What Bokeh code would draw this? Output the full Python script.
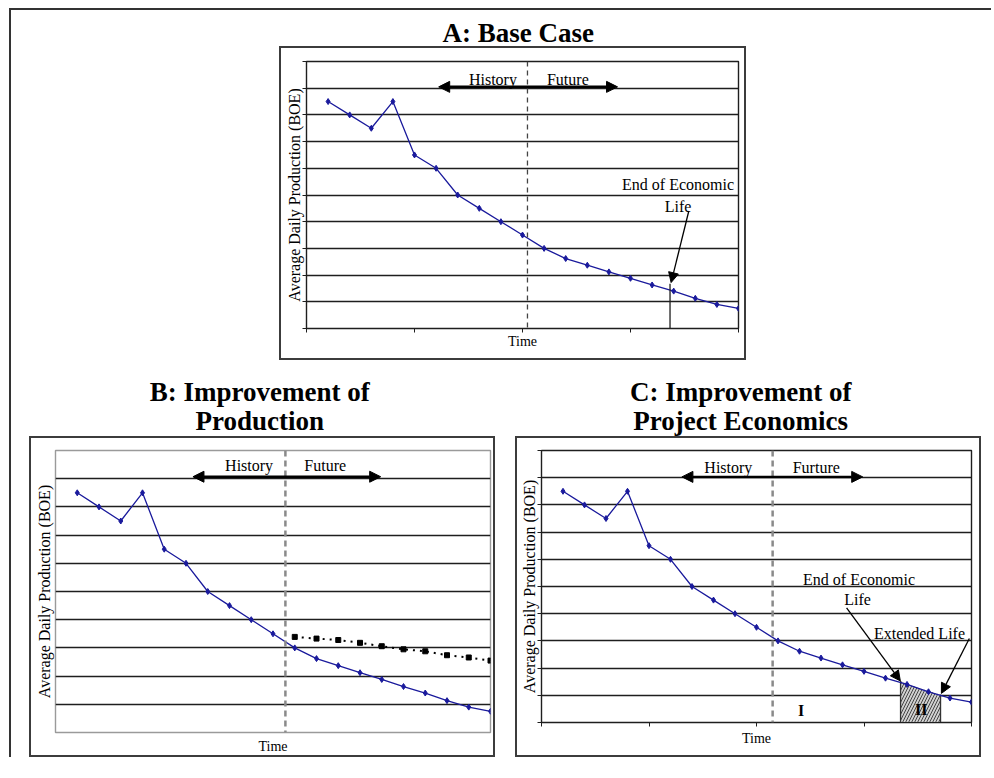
from bokeh.plotting import figure
from bokeh.models import (Range1d, FixedTicker, Label, Arrow, NormalHead, Spacer, Span,
                          CustomJSTickFormatter)
from bokeh.layouts import row, column
from bokeh.embed import file_html
from bokeh.resources import INLINE

# ---------------- data ----------------
time = list(range(1, 21))
production = [8.5, 8.0, 7.5, 8.5, 6.5, 6.0, 5.0, 4.5, 4.0, 3.5,
              3.0, 2.62, 2.37, 2.12, 1.88, 1.63, 1.4, 1.13, 0.9, 0.75]
improved_time = list(range(11, 21))
improved_production = [3.39, 3.33, 3.28, 3.18, 3.06, 2.95, 2.88, 2.74, 2.66, 2.55]
extended_time = [16.7, 17, 18, 18.56]
extended_production = [1.53, 1.41, 1.16, 1.02]
x_ticks = [0, 5, 10, 15, 20]
y_ticks = list(range(0, 11))
inner_y_ticks = list(range(1, 10))
title_a = ["A: Base Case"]
title_b = ["B: Improvement of", "Production"]
title_c = ["C: Improvement of", "Project Economics"]
y_label = "Average Daily Production (BOE)"
x_label = "Time"

BLUE = "#1a1a9c"
DARK = "#1e1e1e"
BOX = "2px solid #3c3c3c"
SERIF = "Liberation Serif"


def make_panel(fl, fw, fr, ft, fh, fb, ticks_on, outline_color, grid_ticks,
               ylab_standoff, xlab_standoff):
    p = figure(x_range=Range1d(0, 20), y_range=Range1d(0, 10),
               frame_width=fw, frame_height=fh,
               min_border_left=fl, min_border_right=fr,
               min_border_top=ft, min_border_bottom=fb,
               toolbar_location=None, tools="", output_backend="svg",
               background_fill_color="white", border_fill_color="white",
               styles={"border": BOX})
    p.outline_line_color = outline_color
    p.outline_line_width = 1.4
    p.xgrid.visible = False
    p.ygrid.ticker = FixedTicker(ticks=grid_ticks)
    p.ygrid.grid_line_color = DARK
    p.ygrid.grid_line_width = 1.4
    p.xaxis.ticker = FixedTicker(ticks=x_ticks)
    p.yaxis.ticker = FixedTicker(ticks=y_ticks)
    for ax in (p.xaxis[0], p.yaxis[0]):
        ax.formatter = CustomJSTickFormatter(code="return ''")
        ax.major_label_text_color = None
        ax.major_label_text_font_size = "1px"
        ax.major_label_standoff = 0
        ax.minor_tick_line_color = None
        ax.major_tick_in = 0
        ax.major_tick_out = 4 if ticks_on else 0
        ax.major_tick_line_color = DARK if ticks_on else None
        ax.axis_line_color = DARK if ticks_on else None
        ax.axis_label_text_font = SERIF
        ax.axis_label_text_font_style = "normal"
        ax.axis_label_text_color = "black"
    p.yaxis.axis_label = y_label
    p.yaxis.axis_label_text_font_size = "16px"
    p.yaxis.axis_label_standoff = ylab_standoff
    p.xaxis.axis_label = x_label
    p.xaxis.axis_label_text_font_size = "14px"
    p.xaxis.axis_label_standoff = xlab_standoff
    return p


def title_fig(width, height, lines, cx, ys_from_top):
    t = figure(x_range=Range1d(0, width), y_range=Range1d(0, height),
               width=width, height=height,
               min_border_left=0, min_border_right=0,
               min_border_top=0, min_border_bottom=0,
               x_axis_location=None, y_axis_location=None,
               toolbar_location=None, tools="", output_backend="svg",
               background_fill_color="white", border_fill_color="white")
    t.outline_line_color = None
    t.grid.visible = False
    for txt, y in zip(lines, ys_from_top):
        t.add_layout(Label(x=cx, y=height - y, text=txt,
                           text_align="center", text_baseline="middle",
                           text_font=SERIF, text_font_style="bold",
                           text_font_size="27px", text_color="black"))
    return t


def add_text(p, x, y, txt, size="16px", bold=False):
    p.add_layout(Label(x=x, y=y, text=txt, text_align="center", text_baseline="middle",
                       text_font=SERIF, text_font_size=size,
                       text_font_style="bold" if bold else "normal",
                       text_color="black"))


def add_arrow(p, x0, y0, x1, y1, both=False, width=1.3, size=10):
    start = NormalHead(size=size, fill_color="black", line_color="black") if both else None
    p.add_layout(Arrow(start=start,
                       end=NormalHead(size=size, fill_color="black", line_color="black"),
                       x_start=x0, y_start=y0, x_end=x1, y_end=y1,
                       line_color="black", line_width=width))


def add_history(p, split, hx, fx, ty, ax0, ax1, ay, future_text, dash_color, dash_width, dash):
    p.add_layout(Span(location=split, dimension="height", line_color=dash_color,
                      line_width=dash_width, line_dash=dash))
    add_arrow(p, ax0, ay, ax1, ay, both=True, width=2.5, size=11)
    add_text(p, hx, ty, "History")
    add_text(p, fx, ty, future_text)


def add_production(p):
    p.line(time, production, line_color=BLUE, line_width=1.3)
    p.scatter(time, production, marker="diamond", size=6, color=BLUE)


# ---------------- Panel A ----------------
ta = title_fig(467, 36, title_a, 231, [22])
pa = make_panel(25, 428, 10, 13, 263, 34, True, DARK, y_ticks, 0, 1)
add_history(pa, 10.23, 8.63, 12.1, 9.33, 6.12, 14.4, 9.05, "Future", "#444444", 1.3, "5 4")
add_production(pa)
pa.segment(x0=[16.83], y0=[0], x1=[16.83], y1=[1.68], line_color=DARK, line_width=1.3)
add_text(pa, 17.2, 5.4, "End of Economic")
add_text(pa, 17.2, 4.58, "Life")
add_arrow(pa, 17.7, 4.4, 16.88, 1.72)

# ---------------- Panel B ----------------
tb = title_fig(466, 76, title_b, 221, [31.5, 60])
pb = make_panel(24, 431, 7, 12, 278, 27, False, "#9a9a9a", inner_y_ticks, 3, 6)
add_history(pb, 10.57, 8.9, 12.4, 9.46, 6.32, 14.95, 9.07, "Future", "#8a8a8a", 2.5, "6 4")
add_production(pb)
pb.line(improved_time, improved_production, line_color="black", line_width=2, line_dash="2 5")
pb.scatter(improved_time, improved_production, marker="square", size=5, color="black")

# ---------------- Panel C ----------------
tc = title_fig(466, 76, title_c, 218, [31.5, 60])
pc = make_panel(24, 426, 12, 12, 268, 37, True, DARK, y_ticks, 0, 4)
add_history(pc, 10.75, 8.69, 12.78, 9.38, 6.53, 14.94, 9.03, "Furture", "#8a8a8a", 2.5, "6 4")
pc.varea(x=extended_time, y1=0, y2=extended_production, fill_color="#cfcfcf",
         hatch_pattern="/", hatch_color="#444444", hatch_scale=6, hatch_weight=1)
pc.segment(x0=[extended_time[0], extended_time[-1]], y0=[0, 0],
           x1=[extended_time[0], extended_time[-1]],
           y1=[extended_production[0], extended_production[-1]],
           line_color="#333333", line_width=1.3)
add_production(pc)
add_text(pc, 14.77, 5.24, "End of Economic")
add_text(pc, 14.7, 4.52, "Life")
add_arrow(pc, 14.19, 4.21, 16.69, 1.53)
add_text(pc, 17.58, 3.28, "Extended Life")
add_arrow(pc, 19.9, 3.09, 18.6, 1.07)
add_text(pc, 12.08, 0.45, "I", size="16px", bold=True)
add_text(pc, 17.66, 0.47, "II", size="16px", bold=True)

container = column(
    row(Spacer(width=268, height=350), column(ta, pa)),
    row(Spacer(width=18, height=397), column(tb, pb), Spacer(width=20, height=397),
        column(tc, pc), Spacer(width=10, height=397)),
    styles={"border-top": "2px solid #333333", "border-left": "2px solid #333333"},
)
page = column(Spacer(width=10, height=8), row(Spacer(width=9, height=10), container))

open("out.html", "w").write(file_html(page, INLINE))
